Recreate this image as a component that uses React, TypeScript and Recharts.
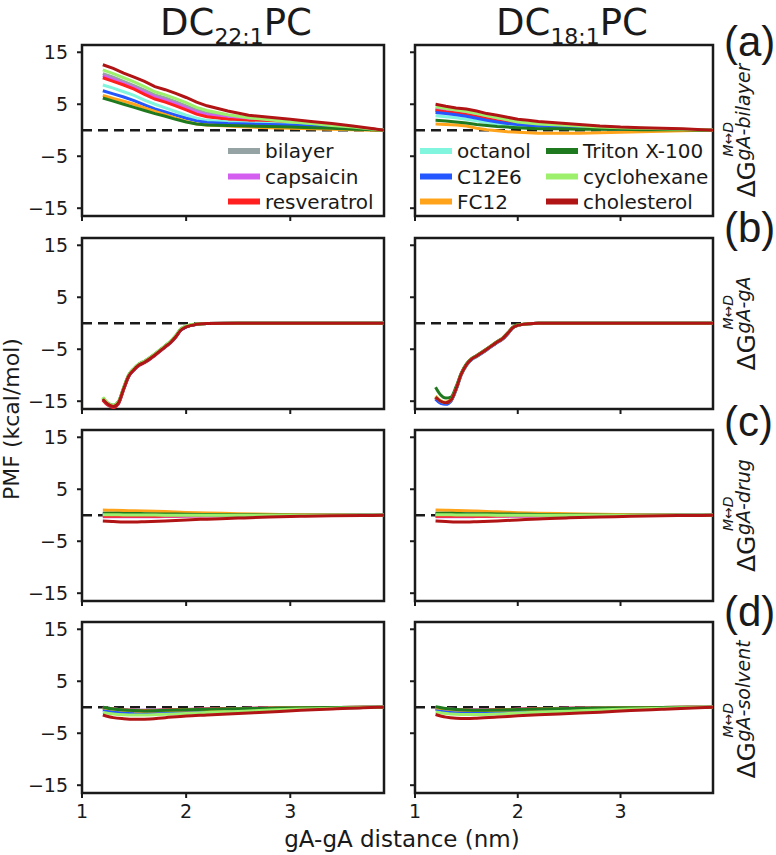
import React from 'react';
import { LineChart, Line, XAxis, YAxis, ReferenceLine, ReferenceArea } from 'recharts';

// ---------- series meta ----------
const KEYS = ['bilayer', 'capsaicin', 'resveratrol', 'octanol', 'c12e6', 'fc12', 'triton', 'cyclohexane', 'cholesterol'];
const NAMES = ['bilayer', 'capsaicin', 'resveratrol', 'octanol', 'C12E6', 'FC12', 'Triton X-100', 'cyclohexane', 'cholesterol'];
const COLORS = ['#95a3a4', '#d35ef0', '#ff1f1f', '#82f5df', '#2457ff', '#ffa41a', '#1f7a1f', '#9cf06c', '#b01414'];

// ---------- x grids (nm) ----------
const X_A = [1.2, 1.3, 1.4, 1.5, 1.6, 1.7, 1.8, 1.9, 2.0, 2.1, 2.2, 2.4, 2.6, 2.8, 3.0, 3.2, 3.4, 3.6, 3.8, 3.9];
const X_B = [1.2, 1.25, 1.3, 1.35, 1.4, 1.45, 1.5, 1.55, 1.6, 1.7, 1.8, 1.85, 1.9, 1.95, 2.0, 2.1, 2.2, 2.5, 3.0, 3.5, 3.9];
const X_CD = [1.2, 1.3, 1.4, 1.5, 1.6, 1.8, 2.0, 2.2, 2.5, 2.8, 3.1, 3.4, 3.7, 3.9];

// ---------- (a) gA-bilayer ----------
const A22: Record<string, number[]> = {
  bilayer:     [10.9, 10.2, 9.4, 8.6, 7.7, 6.8, 6.2, 5.5, 4.7, 3.9, 3.3, 2.6, 2.1, 1.8, 1.5, 1.2, 0.9, 0.5, 0.2, 0.0],
  capsaicin:   [10.5, 9.8, 9.0, 8.2, 7.3, 6.4, 5.8, 5.1, 4.3, 3.5, 3.0, 2.4, 1.9, 1.6, 1.3, 1.1, 0.8, 0.5, 0.2, 0.0],
  resveratrol: [10.1, 9.4, 8.7, 7.9, 6.9, 6.0, 5.4, 4.7, 3.9, 3.1, 2.6, 2.1, 1.8, 1.6, 1.4, 1.1, 0.8, 0.5, 0.2, 0.0],
  octanol:     [8.7, 8.1, 7.4, 6.7, 5.8, 5.0, 4.3, 3.6, 2.9, 2.3, 1.9, 1.6, 1.4, 1.3, 1.1, 0.9, 0.7, 0.4, 0.1, 0.0],
  c12e6:       [7.6, 7.0, 6.4, 5.7, 4.9, 4.1, 3.5, 2.9, 2.3, 1.8, 1.5, 1.3, 1.2, 1.1, 1.0, 0.8, 0.6, 0.4, 0.1, 0.0],
  fc12:        [6.7, 6.1, 5.6, 5.0, 4.3, 3.6, 3.0, 2.3, 1.7, 1.2, 1.0, 0.8, 0.6, 0.5, 0.4, 0.3, 0.2, 0.1, 0.0, 0.0],
  triton:      [6.2, 5.6, 5.0, 4.4, 3.8, 3.2, 2.7, 2.1, 1.6, 1.2, 1.0, 0.9, 0.8, 0.7, 0.6, 0.5, 0.4, 0.2, 0.1, 0.0],
  cyclohexane: [11.6, 10.9, 10.1, 9.3, 8.4, 7.4, 6.8, 6.1, 5.3, 4.4, 3.8, 3.0, 2.4, 2.0, 1.6, 1.3, 0.9, 0.6, 0.2, 0.0],
  cholesterol: [12.6, 11.9, 11.0, 10.2, 9.4, 8.4, 7.8, 7.1, 6.3, 5.4, 4.7, 3.7, 2.9, 2.5, 2.1, 1.7, 1.3, 0.8, 0.3, 0.0],
};
const A18: Record<string, number[]> = {
  bilayer:     [4.2, 3.9, 3.6, 3.3, 2.9, 2.5, 2.1, 1.8, 1.4, 1.2, 1.0, 0.8, 0.6, 0.5, 0.4, 0.3, 0.2, 0.1, 0.1, 0.0],
  capsaicin:   [4.0, 3.7, 3.4, 3.1, 2.7, 2.3, 1.9, 1.6, 1.3, 1.1, 0.9, 0.7, 0.5, 0.4, 0.3, 0.2, 0.2, 0.1, 0.0, 0.0],
  resveratrol: [3.8, 3.5, 3.3, 3.0, 2.6, 2.2, 1.8, 1.5, 1.2, 1.0, 0.9, 0.7, 0.5, 0.4, 0.3, 0.3, 0.2, 0.1, 0.0, 0.0],
  octanol:     [2.8, 2.6, 2.4, 2.1, 1.8, 1.5, 1.2, 1.0, 0.8, 0.7, 0.6, 0.5, 0.4, 0.3, 0.2, 0.2, 0.1, 0.1, 0.0, 0.0],
  c12e6:       [3.4, 3.2, 3.0, 2.7, 2.3, 1.9, 1.6, 1.3, 1.1, 0.9, 0.8, 0.6, 0.4, 0.3, 0.2, 0.2, 0.1, 0.1, 0.0, 0.0],
  fc12:        [1.2, 1.1, 1.0, 0.8, 0.4, 0.1, -0.1, -0.3, -0.4, -0.5, -0.6, -0.6, -0.6, -0.5, -0.4, -0.3, -0.2, -0.1, 0.0, 0.0],
  triton:      [1.9, 1.8, 1.6, 1.4, 1.1, 0.9, 0.7, 0.6, 0.5, 0.4, 0.3, 0.3, 0.2, 0.2, 0.2, 0.1, 0.1, 0.1, 0.0, 0.0],
  cyclohexane: [4.5, 4.2, 3.9, 3.6, 3.2, 2.8, 2.4, 2.0, 1.6, 1.4, 1.2, 1.0, 0.8, 0.6, 0.5, 0.4, 0.3, 0.2, 0.1, 0.0],
  cholesterol: [5.0, 4.6, 4.3, 4.1, 3.7, 3.2, 2.9, 2.5, 2.1, 1.9, 1.7, 1.4, 1.1, 0.8, 0.6, 0.5, 0.4, 0.3, 0.1, 0.0],
};

// ---------- (b) gA-gA ----------
const B22: Record<string, number[]> = {
  bilayer:     [-14.4, -15.5, -15.9, -15.2, -12.5, -10.0, -8.8, -7.9, -7.4, -6.0, -4.4, -3.6, -2.5, -1.2, -0.6, -0.2, -0.05, 0, 0, 0, 0],
  capsaicin:   [-14.7, -15.7, -16.1, -15.4, -12.7, -10.2, -9.0, -8.1, -7.5, -6.1, -4.5, -3.7, -2.6, -1.3, -0.7, -0.2, -0.05, 0, 0, 0, 0],
  resveratrol: [-14.8, -15.8, -16.2, -15.5, -12.8, -10.2, -9.0, -8.1, -7.6, -6.2, -4.6, -3.8, -2.7, -1.3, -0.7, -0.2, -0.05, 0, 0, 0, 0],
  octanol:     [-14.5, -15.5, -15.9, -15.2, -12.5, -10.0, -8.8, -7.9, -7.4, -6.0, -4.4, -3.6, -2.5, -1.2, -0.6, -0.2, -0.05, 0, 0, 0, 0],
  c12e6:       [-14.6, -15.6, -16.0, -15.3, -12.6, -10.1, -8.9, -8.0, -7.5, -6.1, -4.5, -3.7, -2.6, -1.3, -0.7, -0.2, -0.05, 0, 0, 0, 0],
  fc12:        [-14.5, -15.5, -15.9, -15.2, -12.5, -10.0, -8.8, -7.9, -7.4, -6.0, -4.4, -3.6, -2.5, -1.2, -0.6, -0.2, -0.05, 0, 0, 0, 0],
  triton:      [-14.3, -15.4, -15.8, -15.1, -12.4, -9.9, -8.7, -7.8, -7.3, -5.9, -4.3, -3.5, -2.4, -1.1, -0.6, -0.2, -0.05, 0, 0, 0, 0],
  cyclohexane: [-14.2, -15.4, -15.8, -15.1, -12.4, -9.9, -8.7, -7.8, -7.3, -5.9, -4.3, -3.5, -2.4, -1.1, -0.5, -0.15, -0.05, 0, 0, 0, 0],
  cholesterol: [-14.6, -15.6, -16.0, -15.3, -12.6, -10.1, -8.9, -8.0, -7.5, -6.1, -4.5, -3.7, -2.6, -1.3, -0.7, -0.2, -0.05, 0, 0, 0, 0],
};
const B18: Record<string, number[]> = {
  bilayer:     [-14.3, -15.1, -15.4, -14.8, -12.6, -9.8, -8.0, -6.9, -6.3, -5.0, -3.6, -3.0, -2.0, -0.9, -0.4, -0.1, 0, 0, 0, 0, 0],
  capsaicin:   [-14.5, -15.3, -15.5, -14.9, -12.7, -9.9, -8.1, -7.0, -6.4, -5.1, -3.7, -3.1, -2.1, -0.9, -0.4, -0.1, 0, 0, 0, 0, 0],
  resveratrol: [-14.3, -15.2, -15.4, -14.9, -12.7, -9.9, -8.0, -6.9, -6.3, -5.0, -3.6, -3.0, -2.0, -0.9, -0.4, -0.1, 0, 0, 0, 0, 0],
  octanol:     [-14.4, -15.3, -15.5, -14.9, -12.7, -9.9, -8.1, -7.0, -6.4, -5.0, -3.6, -3.0, -2.0, -0.9, -0.4, -0.1, 0, 0, 0, 0, 0],
  c12e6:       [-14.6, -15.4, -15.6, -15.0, -12.8, -9.9, -8.1, -7.0, -6.4, -5.1, -3.7, -3.1, -2.1, -0.9, -0.4, -0.1, 0, 0, 0, 0, 0],
  fc12:        [-14.0, -14.9, -15.2, -14.7, -12.5, -9.7, -7.9, -6.8, -6.2, -4.9, -3.5, -2.9, -1.9, -0.8, -0.3, -0.1, 0, 0, 0, 0, 0],
  triton:      [-12.3, -13.8, -14.4, -14.2, -12.2, -9.6, -7.8, -6.8, -6.2, -4.9, -3.5, -2.9, -1.9, -0.8, -0.3, -0.1, 0, 0, 0, 0, 0],
  cyclohexane: [-14.1, -15.0, -15.3, -14.8, -12.6, -9.8, -8.0, -6.9, -6.3, -5.0, -3.6, -3.0, -2.0, -0.9, -0.4, -0.1, 0, 0, 0, 0, 0],
  cholesterol: [-14.2, -15.0, -15.3, -14.8, -12.6, -9.8, -8.0, -6.9, -6.3, -5.0, -3.6, -3.0, -2.0, -0.9, -0.4, -0.1, 0, 0, 0, 0, 0],
};

// ---------- (c) gA-drug ----------
const C22: Record<string, number[]> = {
  bilayer:     [0.1, 0.1, 0.1, 0.1, 0.1, 0.05, 0.05, 0.05, 0, 0, 0, 0, 0, 0],
  capsaicin:   [-0.3, -0.3, -0.3, -0.3, -0.3, -0.25, -0.2, -0.15, -0.1, -0.05, 0, 0, 0, 0],
  resveratrol: [-0.2, -0.2, -0.2, -0.2, -0.2, -0.15, -0.1, -0.1, -0.05, 0, 0, 0, 0, 0],
  octanol:     [0.2, 0.2, 0.2, 0.15, 0.15, 0.1, 0.1, 0.05, 0.05, 0, 0, 0, 0, 0],
  c12e6:       [0.3, 0.3, 0.25, 0.25, 0.2, 0.15, 0.1, 0.1, 0.05, 0, 0, 0, 0, 0],
  fc12:        [1.0, 0.95, 0.9, 0.85, 0.8, 0.7, 0.55, 0.45, 0.3, 0.2, 0.1, 0.05, 0, 0],
  triton:      [0.4, 0.4, 0.35, 0.35, 0.3, 0.25, 0.2, 0.15, 0.1, 0.05, 0, 0, 0, 0],
  cyclohexane: [0.1, 0.1, 0.05, 0.05, 0.05, 0, 0, 0, 0, 0, 0, 0, 0, 0],
  cholesterol: [-1.1, -1.2, -1.3, -1.3, -1.25, -1.1, -0.9, -0.75, -0.55, -0.35, -0.2, -0.1, -0.05, 0],
};
const C18: Record<string, number[]> = {
  bilayer:     [0.1, 0.1, 0.1, 0.1, 0.05, 0.05, 0.05, 0, 0, 0, 0, 0, 0, 0],
  capsaicin:   [-0.3, -0.3, -0.3, -0.3, -0.25, -0.2, -0.2, -0.15, -0.1, -0.05, 0, 0, 0, 0],
  resveratrol: [-0.2, -0.2, -0.2, -0.2, -0.2, -0.15, -0.1, -0.1, -0.05, 0, 0, 0, 0, 0],
  octanol:     [0.2, 0.2, 0.2, 0.15, 0.15, 0.1, 0.1, 0.05, 0.05, 0, 0, 0, 0, 0],
  c12e6:       [0.3, 0.3, 0.25, 0.25, 0.2, 0.15, 0.1, 0.1, 0.05, 0, 0, 0, 0, 0],
  fc12:        [1.0, 0.95, 0.9, 0.85, 0.8, 0.65, 0.5, 0.4, 0.3, 0.2, 0.1, 0.05, 0, 0],
  triton:      [0.4, 0.4, 0.35, 0.3, 0.3, 0.25, 0.2, 0.15, 0.1, 0.05, 0, 0, 0, 0],
  cyclohexane: [0.1, 0.1, 0.05, 0.05, 0.05, 0, 0, 0, 0, 0, 0, 0, 0, 0],
  cholesterol: [-1.1, -1.2, -1.3, -1.3, -1.25, -1.1, -0.9, -0.7, -0.5, -0.35, -0.2, -0.1, -0.05, 0],
};

// ---------- (d) gA-solvent ----------
const D22: Record<string, number[]> = {
  bilayer:     [-0.1, -0.3, -0.5, -0.6, -0.6, -0.55, -0.45, -0.35, -0.25, -0.15, -0.1, -0.05, 0, 0],
  capsaicin:   [-0.1, -0.3, -0.5, -0.6, -0.6, -0.55, -0.45, -0.35, -0.25, -0.15, -0.1, -0.05, 0, 0],
  resveratrol: [-0.15, -0.35, -0.55, -0.6, -0.65, -0.55, -0.45, -0.35, -0.25, -0.15, -0.1, -0.05, 0, 0],
  octanol:     [-0.2, -0.5, -0.7, -0.8, -0.8, -0.7, -0.6, -0.5, -0.35, -0.25, -0.15, -0.05, 0, 0],
  c12e6:       [-0.55, -0.9, -1.1, -1.2, -1.2, -1.05, -0.9, -0.75, -0.6, -0.4, -0.25, -0.15, -0.05, 0],
  fc12:        [-0.1, -0.4, -0.6, -0.7, -0.75, -0.65, -0.55, -0.45, -0.35, -0.2, -0.1, -0.05, 0, 0],
  triton:      [0.0, -0.35, -0.55, -0.65, -0.7, -0.6, -0.5, -0.4, -0.3, -0.2, -0.1, -0.05, 0, 0],
  cyclohexane: [-1.0, -1.3, -1.45, -1.5, -1.5, -1.35, -1.2, -1.0, -0.8, -0.55, -0.35, -0.2, -0.05, 0],
  cholesterol: [-1.5, -2.0, -2.2, -2.3, -2.3, -2.0, -1.7, -1.5, -1.2, -0.9, -0.6, -0.35, -0.1, 0],
};
const D18: Record<string, number[]> = {
  bilayer:     [-0.1, -0.3, -0.45, -0.5, -0.55, -0.5, -0.4, -0.3, -0.2, -0.15, -0.1, -0.05, 0, 0],
  capsaicin:   [-0.1, -0.3, -0.45, -0.5, -0.55, -0.5, -0.4, -0.3, -0.2, -0.15, -0.1, -0.05, 0, 0],
  resveratrol: [-0.15, -0.35, -0.5, -0.55, -0.6, -0.5, -0.4, -0.3, -0.2, -0.15, -0.1, -0.05, 0, 0],
  octanol:     [-0.2, -0.45, -0.65, -0.7, -0.75, -0.65, -0.55, -0.45, -0.3, -0.2, -0.15, -0.05, 0, 0],
  c12e6:       [-0.4, -0.75, -0.95, -1.0, -1.0, -0.95, -0.85, -0.7, -0.55, -0.4, -0.25, -0.1, -0.05, 0],
  fc12:        [-0.1, -0.35, -0.55, -0.6, -0.65, -0.6, -0.5, -0.4, -0.3, -0.2, -0.1, -0.05, 0, 0],
  triton:      [0.1, -0.25, -0.45, -0.55, -0.6, -0.55, -0.45, -0.35, -0.25, -0.15, -0.1, -0.05, 0, 0],
  cyclohexane: [-0.9, -1.2, -1.35, -1.4, -1.4, -1.3, -1.1, -0.95, -0.75, -0.55, -0.35, -0.2, -0.05, 0],
  cholesterol: [-1.4, -1.9, -2.1, -2.15, -2.1, -1.9, -1.65, -1.45, -1.2, -0.95, -0.65, -0.4, -0.15, 0],
};

// ---------- axis ticks / labels ----------
const Y_TICKS = [-15, -5, 5, 15];
const X_TICKS = [1, 2, 3];
const Y_DOMAIN: [number, number] = [-16.5, 16.4];
const X_DOMAIN: [number, number] = [1, 3.9];
const ROW_LABELS = ['(a)', '(b)', '(c)', '(d)'];
const ROW_SUBS = ['gA-bilayer', 'gA-gA', 'gA-drug', 'gA-solvent'];
const LEGEND_LEFT = [0, 1, 2];
const LEGEND_RIGHT_COL1 = [3, 4, 5];
const LEGEND_RIGHT_COL2 = [6, 7, 8];

const buildRows = (xs: number[], table: Record<string, number[]>) =>
  xs.map((x, i) => {
    const row: Record<string, number> = { x };
    KEYS.forEach((k) => { row[k] = table[k][i]; });
    return row;
  });

// ---------- layout ----------
const FONT = 'DejaVu Sans';
const INK = '#1a1a1a';
const COL_LEFT = [82, 415];
const COL_WIDTH = [302, 298];
const ROW_TOP = [45, 238, 430, 622];
const PLOT_H = 171;
const Y_AXIS_W = 80;
const X_AXIS_H = 40;
const M_TOP = 6;
const M_RIGHT = 6;

const makeYTick = (show: boolean) => (props: any) => {
  const { x, y, payload } = props;
  if (!show) return <g />;
  const v = payload.value as number;
  const label = v < 0 ? `\u2212${Math.abs(v)}` : `${v}`;
  return (
    <text x={x} y={y} dy={6.8} textAnchor="end" fontSize={19} fontFamily={FONT} fill={INK}>
      {label}
    </text>
  );
};
const makeXTick = (show: boolean) => (props: any) => {
  const { x, y, payload } = props;
  if (!show) return <g />;
  return (
    <text x={x} y={y} dy={14} textAnchor="middle" fontSize={19} fontFamily={FONT} fill={INK}>
      {payload.value}
    </text>
  );
};

type PanelProps = {
  rows: Record<string, number>[];
  col: number;
  row: number;
  curve: 'linear' | 'monotone';
};

function Panel({ rows, col, row, curve }: PanelProps) {
  const plotLeft = COL_LEFT[col];
  const plotW = COL_WIDTH[col];
  const width = Y_AXIS_W + plotW + M_RIGHT;
  const height = M_TOP + PLOT_H + X_AXIS_H;
  return (
    <div style={{ position: 'absolute', left: plotLeft - Y_AXIS_W, top: ROW_TOP[row] - M_TOP }}>
      <LineChart width={width} height={height} data={rows} margin={{ top: M_TOP, right: M_RIGHT, bottom: 0, left: 0 }}>
        <XAxis
          dataKey="x"
          type="number"
          domain={X_DOMAIN}
          ticks={X_TICKS}
          interval={0}
          allowDataOverflow
          height={X_AXIS_H}
          axisLine={false}
          tickSize={5}
          tickMargin={6}
          tickLine={{ stroke: INK, strokeWidth: 2 }}
          tick={makeXTick(row === 3)}
        />
        <YAxis
          type="number"
          domain={Y_DOMAIN}
          ticks={Y_TICKS}
          interval={0}
          allowDataOverflow
          width={Y_AXIS_W}
          axisLine={false}
          tickSize={5}
          tickMargin={9}
          tickLine={{ stroke: INK, strokeWidth: 2 }}
          tick={makeYTick(col === 0)}
        />
        <ReferenceLine y={0} stroke={INK} strokeWidth={2.7} strokeDasharray="10 6" />
        {KEYS.map((k, i) => (
          <Line
            key={k}
            type={curve}
            dataKey={k}
            name={NAMES[i]}
            stroke={COLORS[i]}
            strokeWidth={3}
            dot={false}
            activeDot={false}
            isAnimationActive={false}
          />
        ))}
        <ReferenceArea
          x1={X_DOMAIN[0]}
          x2={X_DOMAIN[1]}
          y1={Y_DOMAIN[0]}
          y2={Y_DOMAIN[1]}
          fill="none"
          fillOpacity={0}
          stroke={INK}
          strokeWidth={2.5}
        />
      </LineChart>
    </div>
  );
}

function DGLabel({ cy, sub, subW }: { cy: number; sub: string; subW: number }) {
  const mainW = 36;
  const start = -(mainW + subW) / 2;
  return (
    <g transform={`translate(755, ${cy}) rotate(-90)`} fontFamily={FONT} fill={INK}>
      <text x={start} y={0} fontSize={25}>ΔG</text>
      <text x={start + mainW + 1} y={-5} fontSize={19} fontStyle="italic">{sub}</text>
      <text x={start + mainW + 5} y={-22} fontSize={14} fontStyle="italic">M↔D</text>
    </g>
  );
}

export default function App() {
  const panels = [
    { rows: buildRows(X_A, A22), col: 0, row: 0, curve: 'linear' as const },
    { rows: buildRows(X_A, A18), col: 1, row: 0, curve: 'linear' as const },
    { rows: buildRows(X_B, B22), col: 0, row: 1, curve: 'monotone' as const },
    { rows: buildRows(X_B, B18), col: 1, row: 1, curve: 'monotone' as const },
    { rows: buildRows(X_CD, C22), col: 0, row: 2, curve: 'monotone' as const },
    { rows: buildRows(X_CD, C18), col: 1, row: 2, curve: 'monotone' as const },
    { rows: buildRows(X_CD, D22), col: 0, row: 3, curve: 'monotone' as const },
    { rows: buildRows(X_CD, D18), col: 1, row: 3, curve: 'monotone' as const },
  ];
  const subWidths = [97, 57, 76, 101];
  const rowCenters = [131, 324, 516, 710];
  const labelBaselines = [56, 242, 436, 626];
  const legendRowsY = [151, 176.5, 201.5];

  const legendItem = (idx: number, lx: number, y: number) => (
    <g key={idx}>
      <line x1={lx} x2={lx + 32} y1={y} y2={y} stroke={COLORS[idx]} strokeWidth={6} />
      <text x={lx + 37} y={y + 7} fontSize={20} fontFamily={FONT} fill={INK}>{NAMES[idx]}</text>
    </g>
  );

  return (
    <div style={{ position: 'absolute', left: 0, top: 0, width: 776, height: 855, background: '#fff', overflow: 'hidden' }}>
      {panels.map((p, i) => (
        <Panel key={i} rows={p.rows} col={p.col} row={p.row} curve={p.curve} />
      ))}
      <svg width={776} height={855} style={{ position: 'absolute', left: 0, top: 0, pointerEvents: 'none' }}>
        {/* column titles */}
        <text x={236} y={35} textAnchor="middle" fontSize={37} fontFamily={FONT} fill={INK}>
          DC<tspan fontSize={22} dy={9}>22:1</tspan><tspan fontSize={37} dy={-9}>PC</tspan>
        </text>
        <text x={572} y={35} textAnchor="middle" fontSize={37} fontFamily={FONT} fill={INK}>
          DC<tspan fontSize={22} dy={9}>18:1</tspan><tspan fontSize={37} dy={-9}>PC</tspan>
        </text>

        {/* row labels */}
        {ROW_LABELS.map((t, i) => (
          <text key={t} x={724} y={labelBaselines[i]} fontSize={42} fontFamily="Liberation Sans" fill={INK}>{t}</text>
        ))}
        {ROW_SUBS.map((s, i) => (
          <DGLabel key={s} cy={rowCenters[i]} sub={s} subW={subWidths[i]} />
        ))}

        {/* axis titles */}
        <text transform="rotate(-90)" x={-419} y={19} textAnchor="middle" fontSize={22} fontFamily={FONT} fill={INK}>
          PMF (kcal/mol)
        </text>
        <text x={402} y={847} textAnchor="middle" fontSize={23} fontFamily={FONT} fill={INK}>
          gA-gA distance (nm)
        </text>

        {/* legends */}
        {LEGEND_LEFT.map((idx, r) => legendItem(idx, 228, legendRowsY[r]))}
        {LEGEND_RIGHT_COL1.map((idx, r) => legendItem(idx, 420, legendRowsY[r]))}
        {LEGEND_RIGHT_COL2.map((idx, r) => legendItem(idx, 546, legendRowsY[r]))}
      </svg>
    </div>
  );
}
